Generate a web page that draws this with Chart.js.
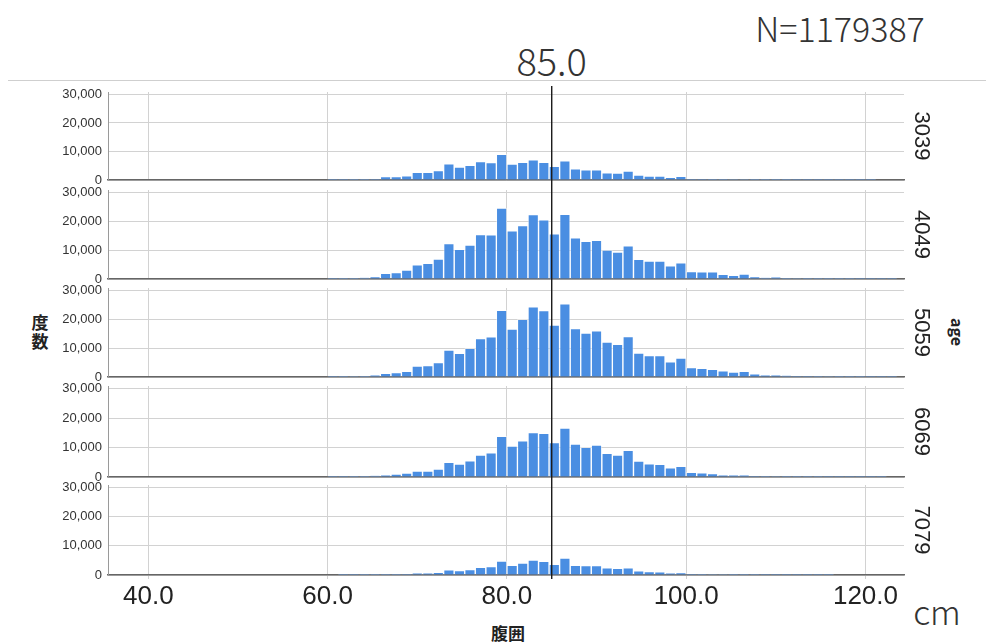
<!DOCTYPE html>
<html>
<head>
<meta charset="utf-8">
<script src="https://cdn.jsdelivr.net/npm/chart.js@4.4.1/dist/chart.umd.min.js"></script>
<style>
    html, body { margin: 0; padding: 0; background: #fff; }
    #wrap { position: relative; width: 986px; height: 644px; overflow: hidden;
            font-family: "Noto Sans CJK JP", "Noto Sans", sans-serif; }
    #wrap canvas { position: absolute; left: 0; }
    .txt { position: absolute; white-space: nowrap; line-height: 1;
           transform: translate(-50%, -50%); color: #333; }
    #topRule { position: absolute; left: 8px; right: 0; top: 80px; height: 1px; background: #cfcfcf; }
</style>
</head>
<body>
<div id="wrap">
    <div id="topRule"></div>
    <div class="txt" id="nLabel" style="left:840px; top:28px; font-size:34px; font-weight:300;"></div>
    <div class="txt" id="refLabel" style="top:60px; font-size:38px; font-weight:300;"></div>
    <div class="txt" style="left:40px; top:331px; font-size:17px; font-weight:bold; line-height:19px; color:#222; text-align:center;">度<br>数</div>
    <div class="txt" style="left:508px; top:632px; font-size:17px; font-weight:bold; color:#222;">腹囲</div>
    <div class="txt" style="left:958px; top:332px; font-size:16px; font-weight:bold; color:#222; transform:translate(-50%, -50%) rotate(90deg);">age</div>
    <div class="txt" style="left:937px; top:611px; font-size:34px; font-weight:300;">cm</div>
</div>
<script>
// 腹囲ヒストグラム（年代別）

const totalN = 1179387;
const refLine = 85.0;

const ageGroups = ["3039", "4049", "5059", "6069", "7079"];

// 階級の中心 (cm)
const binCenters = [
    60.59, 61.76, 62.94, 64.12, 65.29, 66.47, 67.65, 68.82, 70.00, 71.18,
    72.35, 73.53, 74.71, 75.88, 77.06, 78.24, 79.41, 80.59, 81.76, 82.94,
    84.12, 85.29, 86.47, 87.65, 88.82, 90.00, 91.18, 92.35, 93.53, 94.71,
    95.88, 97.06, 98.24, 99.41, 100.59, 101.76, 102.94, 104.12, 105.29, 106.47,
    107.65, 108.82, 110.00, 111.18, 112.35, 113.53, 114.71, 115.88, 117.06, 118.24,
    119.41, 120.59, 121.76, 122.94,
];

// 度数
const age3039 = [
    10, 20, 50, 100, 350, 1200, 1200, 1500, 2700, 2700,
    3300, 5700, 4500, 5100, 6500, 6100, 9000, 5600, 6200, 7100,
    6200, 4800, 6700, 3900, 3600, 3600, 2500, 2400, 3100, 1700,
    1400, 1400, 950, 1300, 350, 350, 250, 250, 150, 200,
    100, 60, 60, 40, 30, 20, 10, 10, 10, 5,
    5, 5, 0, 0,
];
const age4049 = [
    20, 80, 250, 400, 800, 1950, 2200, 3100, 4900, 5400,
    6900, 12300, 10300, 11800, 15400, 15300, 24600, 16700, 18500, 22300,
    20500, 15700, 22400, 14300, 13100, 13400, 10000, 9300, 11500, 6800,
    6200, 6200, 4600, 5600, 2600, 2500, 2450, 1600, 1300, 1700,
    750, 400, 600, 250, 150, 250, 100, 80, 60, 50,
    30, 20, 10, 10,
];
const age5059 = [
    10, 50, 150, 300, 600, 1300, 1500, 2000, 3800, 4000,
    5000, 9300, 8200, 9900, 13300, 13900, 23100, 16600, 20000, 24300,
    23000, 18000, 25400, 16800, 15200, 16000, 12100, 11300, 14000, 8300,
    7400, 7400, 5300, 6600, 3300, 3000, 2700, 2100, 1700, 2000,
    1100, 700, 700, 450, 350, 350, 250, 150, 100, 80,
    50, 30, 20, 10,
];
const age6069 = [
    10, 30, 60, 100, 400, 700, 950, 1300, 2000, 2000,
    2700, 5000, 4400, 5500, 7400, 8200, 13800, 10500, 12300, 15100,
    14800, 11700, 16600, 11200, 10100, 10800, 8000, 7400, 9000, 5400,
    4500, 4300, 3100, 3600, 1550, 1400, 1200, 700, 600, 600,
    350, 250, 200, 120, 100, 80, 40, 30, 20, 10,
    10, 5, 5, 0,
];
const age7079 = [
    0, 10, 20, 50, 60, 100, 250, 350, 700, 700,
    950, 1800, 1550, 1900, 2600, 2850, 4800, 3350, 4050, 5100,
    4650, 3700, 5800, 3350, 3200, 3200, 2500, 2250, 2500, 1450,
    1200, 1100, 700, 850, 350, 250, 200, 150, 100, 100,
    60, 30, 20, 20, 10, 10, 5, 5, 0, 0,
    0, 0, 0, 0,
];

const xTicks = [40, 60, 80, 100, 120];
const yTicks = [0, 10000, 20000, 30000];

const series = [age3039, age4049, age5059, age6069, age7079];

// レイアウト (px)
const plotLeft = 108;
const plotRight = 904;
const rightLabelEdge = 934;
const panelTops = [92, 190, 288, 386, 485];
const panelBottoms = [180, 279, 377, 477, 575];

Chart.defaults.font.family = "'Liberation Sans', Arial, sans-serif";

const refLinePlugin = {
    id: "refLine",
    afterDatasetsDraw(chart, args, opts) {
        const x = chart.scales.x.getPixelForValue(refLine);
        const ctx = chart.ctx;
        ctx.save();
        ctx.strokeStyle = "#1a1a1a";
        ctx.lineWidth = 1.4;
        ctx.beginPath();
        ctx.moveTo(x, 0);
        ctx.lineTo(x, chart.chartArea.bottom + opts.extra);
        ctx.stroke();
        ctx.restore();
    },
};

// 目盛ラベルのはみ出し分の余白を消す（パネル位置を固定するため）
function noOverflow(s) {
    s.paddingTop = 0;
    s.paddingBottom = 0;
    s.paddingLeft = 0;
    s.paddingRight = 0;
}

function drawPanel(i) {
    const last = i === series.length - 1;
    const canvasTop = i === 0 ? 86 : panelBottoms[i - 1];
    const canvasBottom = last ? 644 : panelBottoms[i] + 10;

    const canvas = document.createElement("canvas");
    canvas.width = 986;
    canvas.height = canvasBottom - canvasTop;
    canvas.style.top = canvasTop + "px";
    document.getElementById("wrap").appendChild(canvas);

    return new Chart(canvas, {
        type: "bar",
        data: {
            datasets: [{
                data: binCenters.map((x, k) => ({ x: x, y: series[i][k] })),
                backgroundColor: "#4a8ee2",
                borderColor: "rgba(255, 255, 255, 0.45)",
                borderWidth: 1,
                barPercentage: 1,
                categoryPercentage: 1,
                yAxisID: "y",
            }],
        },
        options: {
            responsive: false,
            animation: false,
            layout: {
                padding: {
                    top: panelTops[i] - canvasTop,
                    bottom: last ? 0 : canvasBottom - panelBottoms[i],
                    left: 0,
                    right: 986 - rightLabelEdge,
                },
            },
            plugins: {
                legend: { display: false },
                tooltip: { enabled: false },
                refLine: { extra: last ? 4 : 0 },
            },
            scales: {
                x: {
                    type: "linear",
                    min: 35.5,
                    max: 124.3,
                    offset: false,
                    afterBuildTicks: s => { s.ticks = xTicks.map(v => ({ value: v })); },
                    afterFit: s => { s.height = last ? 644 - panelBottoms[i] : 0; noOverflow(s); },
                    grid: { offset: false, color: "#d2d2d2", drawTicks: last, tickLength: 4 },
                    border: { color: "#666", width: 1.5 },
                    ticks: {
                        display: last,
                        autoSkip: false,
                        maxRotation: 0,
                        padding: 2,
                        color: "#222",
                        font: { size: 26 },
                        callback: v => v.toFixed(1),
                    },
                },
                y: {
                    min: 0,
                    max: 30850,
                    afterBuildTicks: s => { s.ticks = yTicks.map(v => ({ value: v })); },
                    afterFit: s => { s.width = plotLeft; noOverflow(s); },
                    grid: { color: "#d2d2d2", drawTicks: false },
                    border: { color: "#9a9a9a" },
                    ticks: {
                        padding: 6,
                        color: "#333",
                        font: { size: 13 },
                        callback: v => v.toLocaleString("en-US"),
                    },
                },
                yR: {
                    position: "right",
                    afterFit: s => { s.width = rightLabelEdge - plotRight; noOverflow(s); },
                    ticks: { display: false },
                    grid: { display: false, drawTicks: false },
                    border: { display: false },
                    title: {
                        display: true,
                        text: ageGroups[i],
                        color: "#222",
                        font: { size: 22 },
                        padding: 0,
                    },
                },
            },
        },
        plugins: [refLinePlugin],
    });
}

const charts = series.map((s, i) => drawPanel(i));

document.getElementById("nLabel").textContent = "N=" + totalN;
const refLabel = document.getElementById("refLabel");
refLabel.textContent = refLine.toFixed(1);
refLabel.style.left = charts[0].scales.x.getPixelForValue(refLine) + "px";
</script>
</body>
</html>
